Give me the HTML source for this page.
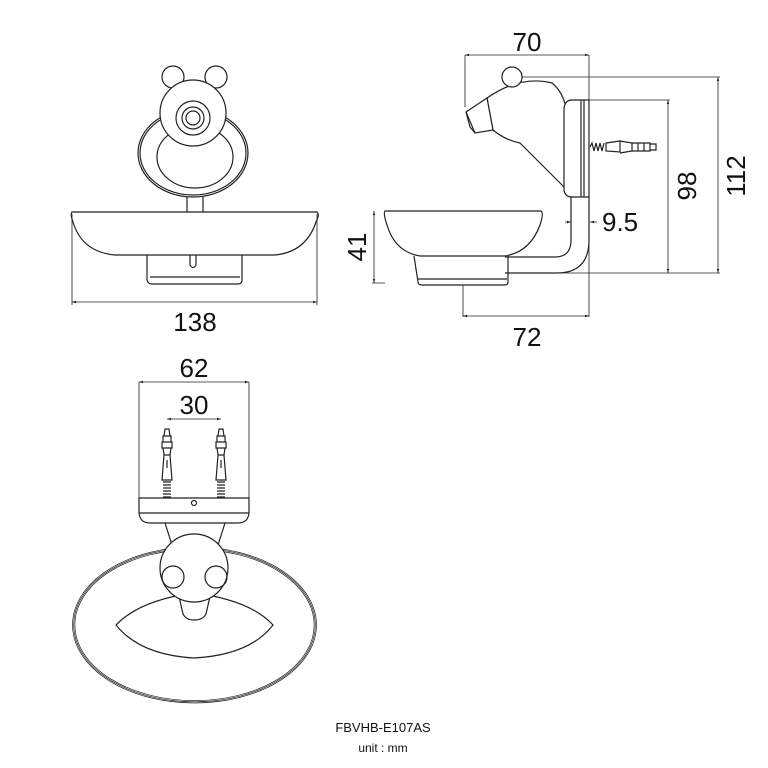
<!DOCTYPE html>
<html><head><style>
html,body{margin:0;padding:0;background:#fff;}
svg{display:block;}
text{font-family:"Liberation Sans","DejaVu Sans",sans-serif;fill:#111;}
</style></head><body>
<svg width="768" height="768" viewBox="0 0 768 768" xmlns="http://www.w3.org/2000/svg">
<defs>
<marker id="a" viewBox="0 0 10 10" refX="10" refY="5" markerWidth="7" markerHeight="5" orient="auto-start-reverse"><path d="M0,2 L10,5 L0,8 z" fill="#222"/></marker>
</defs>
<g fill="none" stroke="#222" stroke-width="1.2">
<ellipse cx="193" cy="153" rx="55" ry="44"/>
<ellipse cx="193" cy="153" rx="53" ry="42"/>
<ellipse cx="195" cy="157" rx="38" ry="31"/>
<path d="M187,197 V212 M203,197 V212"/>
<circle cx="173" cy="77" r="11" fill="#fff"/>
<circle cx="216" cy="77" r="11" fill="#fff"/>
<circle cx="193" cy="113" r="33" fill="#fff"/>
<circle cx="193" cy="118" r="17"/>
<circle cx="193" cy="118" r="11"/>
<circle cx="193" cy="118" r="7"/>
<path d="M72,212 H317 Q320,214 316,222 Q306,252 275,255 H115 Q82,252 73,222 Q70,214 72,212 Z"/>
<path d="M147,255 V280 Q148,284 152,284 H238 Q242,284 242,280 V255"/>
<path d="M150,277 H240"/>
<path d="M190,255 V265 Q193,270 196,265 V255"/>
<path d="M72,214 V305 M317,214 V305" stroke-width="0.8"/>
<line x1="72" y1="302" x2="317" y2="302" stroke-width="0.8" marker-start="url(#a)" marker-end="url(#a)"/>

<path d="M465,55 V107 M589,55 V317 M463,285 V317" stroke-width="0.8"/>
<line x1="465" y1="55" x2="589" y2="55" stroke-width="0.8" marker-start="url(#a)" marker-end="url(#a)"/>
<path d="M522,77 H720 M589,100 H670 M541,273 H720 M385,283 H372" stroke-width="0.8"/>
<line x1="718" y1="77" x2="718" y2="273" stroke-width="0.8" marker-start="url(#a)" marker-end="url(#a)"/>
<line x1="668" y1="100" x2="668" y2="273" stroke-width="0.8" marker-start="url(#a)" marker-end="url(#a)"/>
<line x1="374" y1="211" x2="374" y2="283" stroke-width="0.8" marker-start="url(#a)" marker-end="url(#a)"/>
<line x1="463" y1="316" x2="589" y2="316" stroke-width="0.8" marker-start="url(#a)" marker-end="url(#a)"/>
<line x1="565" y1="222" x2="571" y2="222" stroke-width="0.8" marker-end="url(#a)"/>
<line x1="597" y1="222" x2="590" y2="222" stroke-width="0.8" marker-end="url(#a)"/>
<path d="M487,98 Q520,75 552,83 Q563,92 566,108 L565,188 L520,143 Q505,140 493,130 Z" fill="#fff"/>
<path d="M466,112 L487,98 L493,130 L475,133 Z" fill="#fff"/>
<path d="M466,112 L470,127 L475,133"/>
<circle cx="512" cy="77" r="10" fill="#fff"/>
<path d="M589,100 H571 Q564,101 564,110 V190 Q565,197 572,197 H589 Z" fill="#fff"/>
<path d="M581,100 V197 M584,100 V197"/>
<path d="M590,147 l2,-4 l2,8 l2,-8 l2,8 l2,-8 l2,8 l2,-8" stroke-width="1.2"/>
<path d="M606,143 L620,141 V152 L606,151 Z M620,141 L632,143 V151 L620,153 M632,143 h18 v8 h-18 M638,143 v8 M644,143 v8 M650,144 h6 v6 h-6"/>
<path d="M571,197 V240 Q571,257 555,257 H505 M589,197 V240 Q589,273 557,273 H505"/>
<path d="M385,211 H541 Q544,213 540,225 Q530,252 505,256 H420 Q395,252 387,225 Q383,213 385,211 Z" fill="#fff"/>
<path d="M414,256 L418,282 Q418,285 422,285 H505 Q508,285 508,282 V256"/>
<path d="M418,279 H507"/>

<path d="M139,382 V500 M249,382 V500" stroke-width="0.8"/>
<line x1="139" y1="382" x2="249" y2="382" stroke-width="0.8" marker-start="url(#a)" marker-end="url(#a)"/>
<line x1="167" y1="419" x2="221" y2="419" stroke-width="0.8" marker-start="url(#a)" marker-end="url(#a)"/>
<g id="anc">
<path d="M162,480 L164,455 H170 L172,480 Z M164,455 L163,448 h8 l-1,7 M162,448 h10 v-6 h-10 z M163,442 h8 v-6 h-8 z M164,436 h6 l-1,-7 h-4 z M167,460 v8"/>
<path d="M163,482 h8 M163,485 h8 M163,488 h8 M163,491 h8 M163,494 h8 M163,497 h8" stroke-width="1.3"/>
</g>
<use href="#anc" x="54"/>
<path d="M139,498 H249 V513 Q248,523 238,523 H150 Q140,523 139,513 Z" fill="#fff"/>
<path d="M139,513 H249"/>
<circle cx="194" cy="503" r="2.5"/>
<ellipse cx="194.5" cy="625" rx="122" ry="78" stroke-width="0.7"/>
<ellipse cx="194.5" cy="625" rx="120.8" ry="76.8" stroke-width="0.7"/>
<ellipse cx="194.5" cy="625" rx="119.6" ry="75.6" stroke-width="0.7"/>
<path d="M116,625 Q140,600 194,593 Q250,600 273,625 Q250,655 194,658 Q140,655 116,625 Z"/>
<path d="M165,523 L172,545 M225,523 L218,545"/>
<path d="M178,592 L183,614 Q186,620 194,620 Q203,620 206,614 L211,592" fill="#fff"/>
<circle cx="194" cy="568" r="34" fill="#fff"/>
<circle cx="173" cy="577" r="11"/>
<circle cx="216" cy="577" r="11"/>
</g>
<g font-size="26" text-anchor="middle">
<text x="195" y="331">138</text>
<text x="527" y="51">70</text>
<text x="527" y="346">72</text>
<text x="602" y="231" text-anchor="start">9.5</text>
<text transform="translate(366,247) rotate(-90)">41</text>
<text transform="translate(696,186) rotate(-90)">98</text>
<text transform="translate(745,176) rotate(-90)">112</text>
<text x="194" y="377">62</text>
<text x="194" y="414">30</text>
</g>
<text x="383" y="732" font-size="13" text-anchor="middle">FBVHB-E107AS</text>
<text x="383" y="752" font-size="12" text-anchor="middle">unit : mm</text>
</svg>
</body></html>
